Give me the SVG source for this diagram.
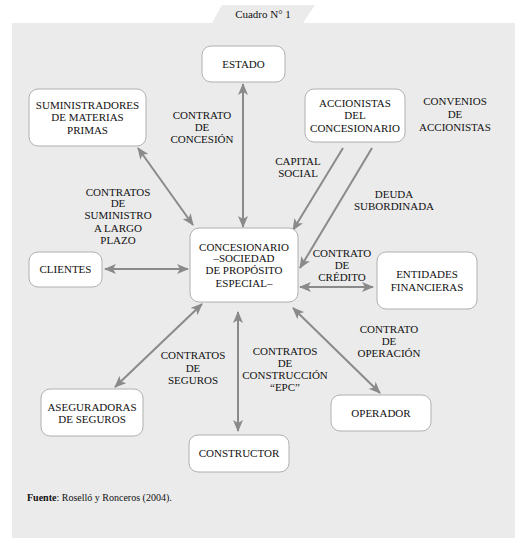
<svg xmlns="http://www.w3.org/2000/svg" width="524" height="543" viewBox="0 0 524 543">
<style>
text{font-family:'Liberation Serif','Times New Roman',serif;font-size:11px;fill:#111;text-anchor:middle}
.box{fill:#fff;stroke:#b0b0b0;stroke-width:1}
.c{stroke:#8a8a8a;stroke-width:2;fill:none}
</style>
<defs>
<marker id="ah" viewBox="0 0 12 10" refX="11" refY="5" markerWidth="12" markerHeight="10" markerUnits="userSpaceOnUse" orient="auto-start-reverse">
<path d="M0,0 L12,5 L0,10 L3,5 Z" fill="#8a8a8a"/>
</marker>
</defs>
<rect width="524" height="543" fill="#fff"/>
<rect x="12" y="23" width="503" height="515" fill="#ebebeb"/>
<polygon points="222,5 315,5 303,23 212,23" fill="#ebebeb"/>
<g font-family="Liberation Serif, Times New Roman, serif">
<text x="263" y="18">Cuadro N° 1</text>

<g id="connectors">
<line class="c" x1="243" y1="84" x2="243" y2="227" marker-start="url(#ah)" marker-end="url(#ah)"/>
<line class="c" x1="138" y1="148" x2="193" y2="225" marker-start="url(#ah)" marker-end="url(#ah)"/>
<line class="c" x1="343" y1="148" x2="293" y2="230" marker-end="url(#ah)"/>
<line class="c" x1="372" y1="148" x2="300" y2="268" marker-end="url(#ah)"/>
<line class="c" x1="105" y1="269" x2="188" y2="269" marker-start="url(#ah)" marker-end="url(#ah)"/>
<line class="c" x1="300" y1="287" x2="373" y2="287" marker-start="url(#ah)" marker-end="url(#ah)"/>
<line class="c" x1="202" y1="304" x2="115" y2="387" marker-start="url(#ah)" marker-end="url(#ah)"/>
<line class="c" x1="238" y1="312" x2="238" y2="431" marker-start="url(#ah)" marker-end="url(#ah)"/>
<line class="c" x1="293" y1="308" x2="380" y2="393" marker-start="url(#ah)" marker-end="url(#ah)"/>
</g>

<g id="estado"><rect class="box" x="202" y="46" width="83" height="36" rx="9"/><text x="243.5" y="68">ESTADO</text></g>
<g id="suministradores"><rect class="box" x="29" y="89" width="117" height="57" rx="9"/>
<text x="87.5" y="109">SUMINISTRADORES</text><text x="87.5" y="121">DE MATERIAS</text><text x="87.5" y="134">PRIMAS</text></g>
<g id="accionistas"><rect class="box" x="305" y="89" width="100" height="53" rx="9"/>
<text x="355" y="107">ACCIONISTAS</text><text x="355" y="119">DEL</text><text x="355" y="132">CONCESIONARIO</text></g>
<g id="concesionario"><rect class="box" x="190" y="228" width="108" height="74" rx="9"/>
<text x="244" y="251">CONCESIONARIO</text><text x="244" y="262">–SOCIEDAD</text><text x="244" y="274">DE PROPÓSITO</text><text x="244" y="287">ESPECIAL–</text></g>
<g id="clientes"><rect class="box" x="29" y="252" width="73" height="35" rx="9"/><text x="65.5" y="273">CLIENTES</text></g>
<g id="entidades"><rect class="box" x="377" y="252" width="100" height="57" rx="9"/>
<text x="427" y="278">ENTIDADES</text><text x="427" y="291">FINANCIERAS</text></g>
<g id="aseguradoras"><rect class="box" x="41" y="389" width="102" height="47" rx="9"/>
<text x="92" y="411">ASEGURADORAS</text><text x="92" y="423">DE SEGUROS</text></g>
<g id="constructor"><rect class="box" x="189" y="435" width="100" height="37" rx="9"/><text x="239" y="457">CONSTRUCTOR</text></g>
<g id="operador"><rect class="box" x="331" y="395" width="100" height="36" rx="9"/><text x="381" y="417">OPERADOR</text></g>

<g id="labels">
<text x="202" y="119">CONTRATO</text><text x="202" y="131">DE</text><text x="202" y="143">CONCESIÓN</text>
<text x="455" y="105">CONVENIOS</text><text x="455" y="118">DE</text><text x="455" y="131">ACCIONISTAS</text>
<text x="298" y="165">CAPITAL</text><text x="298" y="177">SOCIAL</text>
<text x="394" y="198">DEUDA</text><text x="394" y="210">SUBORDINADA</text>
<text x="118" y="196">CONTRATOS</text><text x="118" y="207">DE</text><text x="118" y="219">SUMINISTRO</text><text x="118" y="232">A LARGO</text><text x="118" y="244">PLAZO</text>
<text x="342" y="257">CONTRATO</text><text x="342" y="269">DE</text><text x="342" y="281">CRÉDITO</text>
<text x="193" y="359">CONTRATOS</text><text x="193" y="372">DE</text><text x="193" y="384">SEGUROS</text>
<text x="285" y="355">CONTRATOS</text><text x="285" y="367">DE</text><text x="285" y="379">CONSTRUCCIÓN</text><text x="285" y="391">“EPC”</text>
<text x="389" y="333">CONTRATO</text><text x="389" y="345">DE</text><text x="389" y="357">OPERACIÓN</text>
</g>
<text x="27" y="501" style="text-anchor:start;font-size:10px"><tspan font-weight="bold">Fuente</tspan>: Roselló y Ronceros (2004).</text>
</g>
</svg>
